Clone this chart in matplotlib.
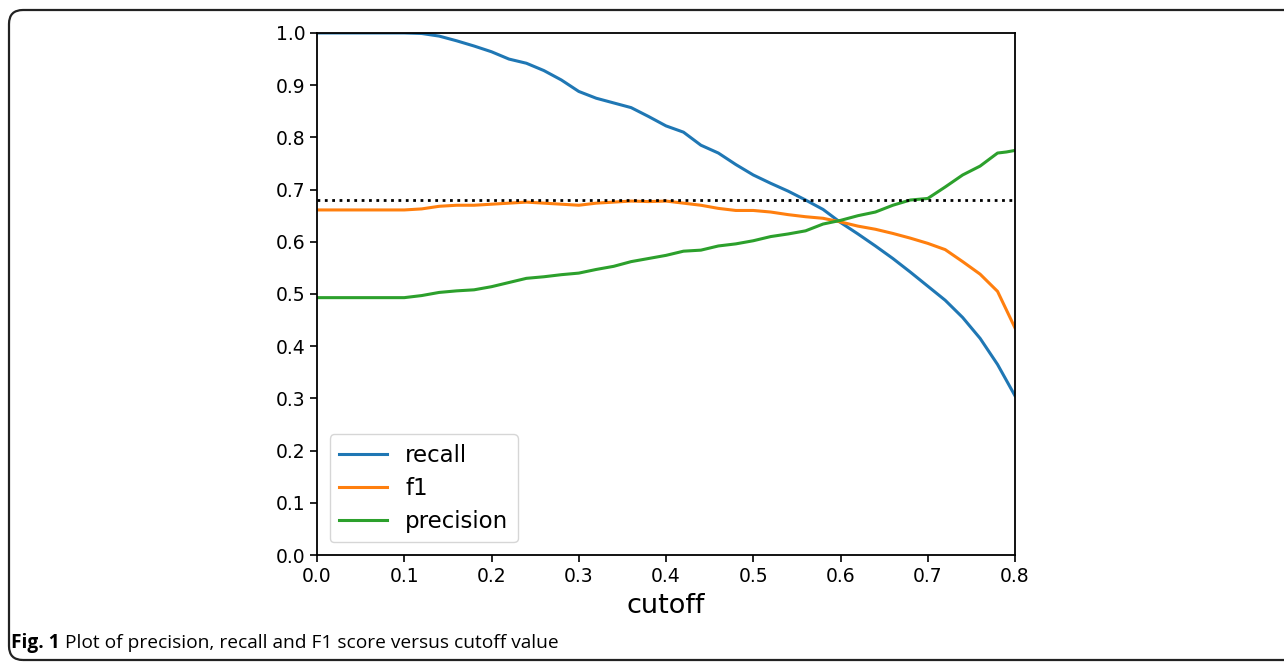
import matplotlib
matplotlib.use("Agg")
import matplotlib.pyplot as plt
from matplotlib.patches import FancyBboxPatch
from matplotlib.transforms import IdentityTransform

plt.rcParams["font.family"] = ["DejaVu Sans"]

cutoff = [0.00, 0.02, 0.04, 0.06, 0.08, 0.10, 0.12, 0.14, 0.16, 0.18,
          0.20, 0.22, 0.24, 0.26, 0.28, 0.30, 0.32, 0.34, 0.36, 0.38,
          0.40, 0.42, 0.44, 0.46, 0.48, 0.50, 0.52, 0.54, 0.56, 0.58,
          0.60, 0.62, 0.64, 0.66, 0.68, 0.70, 0.72, 0.74, 0.76, 0.78,
          0.79, 0.80]

recall = [1.000, 1.000, 1.000, 1.000, 1.000, 1.000, 0.999, 0.994, 0.985, 0.975,
          0.964, 0.950, 0.942, 0.928, 0.910, 0.888, 0.875, 0.866, 0.857, 0.840,
          0.822, 0.810, 0.785, 0.770, 0.748, 0.728, 0.712, 0.697, 0.680, 0.662,
          0.637, 0.615, 0.592, 0.568, 0.542, 0.515, 0.488, 0.455, 0.415, 0.365,
          0.335, 0.305]

f1 = [0.661, 0.661, 0.661, 0.661, 0.661, 0.661, 0.663, 0.668, 0.670, 0.670,
      0.672, 0.674, 0.676, 0.674, 0.672, 0.670, 0.674, 0.676, 0.678, 0.677,
      0.678, 0.674, 0.670, 0.664, 0.660, 0.660, 0.657, 0.652, 0.648, 0.645,
      0.638, 0.630, 0.624, 0.616, 0.607, 0.597, 0.585, 0.562, 0.538, 0.505,
      0.470, 0.435]

precision = [0.493, 0.493, 0.493, 0.493, 0.493, 0.493, 0.497, 0.503, 0.506, 0.508,
             0.514, 0.522, 0.530, 0.533, 0.537, 0.540, 0.547, 0.553, 0.562, 0.568,
             0.574, 0.582, 0.584, 0.592, 0.596, 0.602, 0.610, 0.615, 0.621, 0.634,
             0.641, 0.650, 0.657, 0.670, 0.680, 0.683, 0.705, 0.728, 0.745, 0.770,
             0.772, 0.775]

best_f1 = 0.68

fig = plt.figure(figsize=(12.84, 6.62), dpi=100)
ax = fig.add_axes([0.2469, 0.1616, 0.5436, 0.7886])

ax.plot(cutoff, recall, color="#1f77b4", lw=2.2, label="recall")
ax.plot(cutoff, f1, color="#ff7f0e", lw=2.2, label="f1")
ax.plot(cutoff, precision, color="#2ca02c", lw=2.2, label="precision")
ax.hlines(best_f1, 0, 0.8, colors="black", linestyles=":", lw=2)

ax.set_xlim(0, 0.8)
ax.set_ylim(0, 1.0)
ax.set_xticks([0.0, 0.1, 0.2, 0.3, 0.4, 0.5, 0.6, 0.7, 0.8])
ax.set_yticks([0.0, 0.1, 0.2, 0.3, 0.4, 0.5, 0.6, 0.7, 0.8, 0.9, 1.0])
ax.tick_params(labelsize=13.5, length=5, width=1.2)
for s in ax.spines.values():
    s.set_linewidth(1.3)
ax.set_xlabel("cutoff", fontsize=19.5, labelpad=5)
ax.legend(loc="lower left", fontsize=16.5, handlelength=2.1,
          labelspacing=0.45, borderaxespad=0.55)

# rounded frame around the figure
frame = FancyBboxPatch((9, 2), 1320, 650, boxstyle="round,pad=0,rounding_size=14",
                       transform=IdentityTransform(), fill=False,
                       edgecolor="#222222", lw=1.6)
fig.patches.append(frame)

# caption
cap_fam = ["Liberation Sans Narrow", "Open Sans", "DejaVu Sans"]
t1 = fig.text(11 / 1284, 0.028, "Fig. 1", fontsize=13.8, fontweight="bold",
              family=cap_fam, va="center")
r = fig.canvas.get_renderer()
bb = t1.get_window_extent(renderer=r)
fig.text((bb.x1 + 5) / 1284, 0.028,
         "Plot of precision, recall and F1 score versus cutoff value",
         fontsize=13.8, family=cap_fam, va="center")

fig.savefig("out.png", dpi=100)
